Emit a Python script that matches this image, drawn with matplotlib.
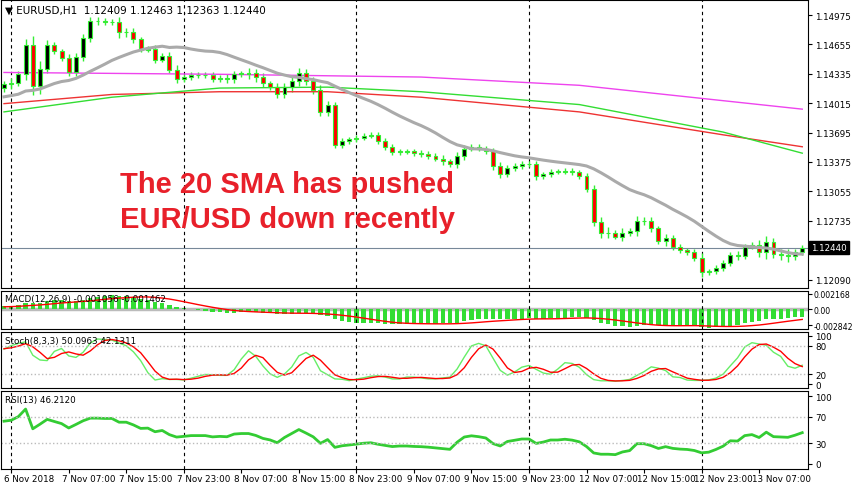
import numpy as np
import pandas as pd
import matplotlib
matplotlib.use('Agg')
import matplotlib.pyplot as plt

# closes before the visible window (warm-up for SMA / indicators)
prior = [1.1398, 1.1402, 1.1396, 1.1405, 1.1410, 1.1404, 1.1399, 1.1408, 1.1412, 1.1406,
         1.1401, 1.1409, 1.1415, 1.1411, 1.1407, 1.1414, 1.1419, 1.1413, 1.1418]

closes = [1.1422, 1.1424, 1.1433, 1.1465, 1.1420, 1.1439, 1.1465, 1.1458, 1.1451, 1.1435,
          1.1452, 1.1473, 1.1491, 1.1491, 1.1490, 1.1490, 1.1479, 1.1479, 1.1471, 1.1460,
          1.1461, 1.1449, 1.1453, 1.1438, 1.1428, 1.1430, 1.1432, 1.1432, 1.1432, 1.1428,
          1.1429, 1.1428, 1.1433, 1.1434, 1.1434, 1.1430, 1.1423, 1.1419, 1.1411, 1.1419,
          1.1426, 1.1434, 1.1426, 1.1416, 1.1392, 1.1400, 1.1356, 1.1360, 1.1362, 1.1364,
          1.1366, 1.1367, 1.1360, 1.1354, 1.1348, 1.1349, 1.1349, 1.1347, 1.1346,
          1.1344, 1.1341, 1.1338, 1.1335, 1.1344, 1.1352, 1.1354, 1.1352, 1.1349, 1.1333,
          1.1324, 1.1331, 1.1333, 1.1335, 1.1335, 1.1322, 1.1324, 1.1327, 1.1327, 1.1328,
          1.1326, 1.1322,
          1.1308, 1.1272, 1.1260, 1.1260, 1.1256, 1.1260, 1.1262, 1.1273, 1.1273, 1.1265,
          1.1251, 1.1254, 1.1245, 1.1241, 1.1239, 1.1233, 1.1217, 1.1218, 1.1222, 1.1227,
          1.1236, 1.1235, 1.1245, 1.1247, 1.1239, 1.1250, 1.1237, 1.1236, 1.1235, 1.1239,
          1.1244]

# wick extension beyond the body, in pips
wicks = [4, 5, 4, 6, 10, 8, 5, 3, 3, 4, 4, 4, 5, 4, 3, 3, 6, 5, 4, 3,
         3, 4, 3, 4, 5, 3, 3, 3, 3, 3, 3, 4, 4, 3, 6, 5, 4, 3, 4, 4,
         5, 6, 5, 4, 5, 4, 3, 3, 3, 3, 3, 3, 3, 4, 3, 3, 3, 3, 3, 3,
         3, 4, 3, 4, 4, 3, 3, 3, 4, 4, 3, 3, 3, 3, 4, 3, 3, 3, 3, 3,
         3, 3, 4, 5, 6, 3, 5, 3, 5, 4, 4, 3, 5, 4, 3, 3, 4, 5, 3, 3,
         3, 3, 4, 3, 3, 5, 7, 4, 6, 7, 4, 3]

ma_idx_m = [0, 30, 58, 80, 111]
ma_magenta = [1.1435, 1.1433, 1.1430, 1.1421, 1.1395]
ma_idx = [0, 15, 30, 45, 58, 80, 100, 111]
ma_red = [1.1401, 1.1411, 1.1414, 1.1414, 1.1408, 1.1392, 1.1367, 1.1354]
ma_green = [1.1392, 1.1408, 1.1418, 1.1419, 1.1414, 1.1400, 1.1370, 1.1347]

price_ticks = [1.14975, 1.14655, 1.14335, 1.14015, 1.13695, 1.13375, 1.13055, 1.12735, 1.12090]
date_idx = [1, 9, 17, 25, 33, 41, 49, 57, 65, 73, 81, 89, 97, 105]
date_labels = ['6 Nov 2018', '7 Nov 07:00', '7 Nov 15:00', '7 Nov 23:00', '8 Nov 07:00',
               '8 Nov 15:00', '8 Nov 23:00', '9 Nov 07:00', '9 Nov 15:00', '9 Nov 23:00',
               '12 Nov 07:00', '12 Nov 15:00', '12 Nov 23:00', '13 Nov 07:00']
day_idx = [1, 25, 49, 73, 97]

n = len(closes)
np_ = len(prior)
allc = np.array(prior + closes)
opens = np.array([prior[-1]] + closes[:-1])
c = np.array(closes)
w = np.array(wicks) * 1e-4
hi = np.maximum(opens, c) + w
lo = np.minimum(opens, c) - w
x = np.arange(n)

s = pd.Series(allc)
sma20 = s.rolling(20, min_periods=1).mean().values[np_:]
ema12 = s.ewm(span=12, adjust=False).mean()
ema26 = s.ewm(span=26, adjust=False).mean()
macd = (ema12 - ema26)
sig = macd.rolling(9, min_periods=1).mean()
macd = macd.values[np_:]; sig = sig.values[np_:]

H = pd.Series(np.concatenate([allc[:np_] + 4e-4, hi]))
L = pd.Series(np.concatenate([allc[:np_] - 4e-4, lo]))
hh = H.rolling(8, min_periods=1).max(); ll = L.rolling(8, min_periods=1).min()
k = (s - ll).rolling(3, min_periods=1).sum() / (hh - ll).rolling(3, min_periods=1).sum() * 100
d = k.rolling(3, min_periods=1).mean()
k = k.values[np_:]; d = d.values[np_:]

delta = s.diff().fillna(0)
up = delta.clip(lower=0).ewm(alpha=1/13, adjust=False).mean()
dn = (-delta.clip(upper=0)).ewm(alpha=1/13, adjust=False).mean()
rsi = (100 - 100 / (1 + up / dn)).values[np_:]

W, Hh = 852, 485
fig = plt.figure(figsize=(W/100, Hh/100), dpi=100)
def mk(top, bot):
    return fig.add_axes([1/W, 1 - bot/Hh, 807/W, (bot - top)/Hh])
ax1 = mk(1, 289); ax2 = mk(292, 330); ax3 = mk(333, 389); ax4 = mk(392, 470)
xl = (-0.42, 111.8)
for a in (ax1, ax2, ax3, ax4):
    a.set_xlim(xl)
    a.yaxis.tick_right()
    a.tick_params(axis='y', labelsize=6.3, length=3, pad=2)
    a.set_xticks([])
    for xi in day_idx:
        a.axvline(xi, color='black', ls=(0, (3, 3)), lw=0.8)

green = '#33ee33'
# main price panel
for i in range(n):
    bull = c[i] >= opens[i]
    ax1.vlines(x[i], lo[i], hi[i], color=green, lw=1)
    bot = min(c[i], opens[i]); h = max(abs(c[i] - opens[i]), 0.6e-4)
    ax1.bar(x[i], h, 0.55, bottom=bot - (0.3e-4 if h == 0.6e-4 else 0),
            color='black' if bull else 'red', edgecolor=green, lw=0.8, zorder=3)
ax1.plot(ma_idx_m, ma_magenta, color='#ee44ee', lw=1)
ax1.plot(ma_idx, ma_red, color='#ee3333', lw=1)
ax1.plot(ma_idx, ma_green, color='#33dd33', lw=1)
ax1.plot(x, sma20, color='#aaaaaa', lw=2.2, zorder=4)
ax1.axhline(closes[-1], color='#778899', lw=0.8)
ax1.set_ylim(1.12000, 1.15140)
ax1.set_yticks(price_ticks)
ax1.set_yticklabels(['%.5f' % t for t in price_ticks])
ax1.text(1.004, closes[-1], '%.5f' % closes[-1], transform=ax1.get_yaxis_transform(),
         color='white', fontsize=6.3, va='center', ha='left',
         bbox=dict(boxstyle='square,pad=0.2', fc='black', ec='black'))
ax1.text(0.005, 0.985, '\u25bc EURUSD,H1  1.12409 1.12463 1.12363 1.12440', transform=ax1.transAxes,
         fontsize=7.5, va='top', ha='left')
ax1.text(0.148, 0.30, 'The 20 SMA has pushed\nEUR/USD down recently', transform=ax1.transAxes,
         fontsize=21, fontweight='bold', color='#e8202a', family='Liberation Sans',
         va='center', ha='left', linespacing=1.3)

# MACD, scaled to its own range as the terminal does
mlo, mhi = macd.min() * 1.08, max(macd.max(), 0) * 1.3 + 1e-5
ax2.bar(x, macd, 0.6, color='#33dd33')
ax2.plot(x, sig, color='red', lw=1)
ax2.axhline(0, color='#bbbbbb', lw=2.5, zorder=0)
ax2.set_ylim(mlo, mhi)
ax2.set_yticks([mhi * 0.85, 0.0, mlo * 0.8])
ax2.set_yticklabels(['0.002168', '0.00', '-0.002842'])
ax2.tick_params(axis='y', labelsize=5.6, pad=1)
ax2.text(0.005, 0.93, 'MACD(12,26,9) -0.001056 -0.001462', transform=ax2.transAxes,
         fontsize=6.3, va='top')

# Stochastic
ax3.plot(x, k, color='#66ee66', lw=1)
ax3.plot(x, d, color='red', lw=1)
for lv in (20, 80):
    ax3.axhline(lv, color='#bbbbbb', ls=':', lw=1)
ax3.set_ylim(-8, 108)
ax3.set_yticks([100, 80, 20, 0])
ax3.text(0.005, 0.93, 'Stoch(8,3,3) 50.0963 42.1311', transform=ax3.transAxes, fontsize=6.3, va='top')

# RSI
ax4.plot(x, rsi, color='#33cc33', lw=2)
for lv in (30, 70):
    ax4.axhline(lv, color='#bbbbbb', ls=':', lw=1)
ax4.set_ylim(-8, 108)
ax4.set_yticks([100, 70, 30, 0])
ax4.text(0.005, 0.95, 'RSI(13) 46.2120', transform=ax4.transAxes, fontsize=6.3, va='top')
ax4.set_xticks(date_idx)
ax4.set_xticklabels([])
ax4.tick_params(axis='x', length=3)
for xi, lb in zip(date_idx, date_labels):
    ax4.text(xi - 1.0, -0.06, lb, transform=ax4.get_xaxis_transform(), fontsize=6.3,
             ha='left', va='top')

fig.savefig('out.png', dpi=100)
